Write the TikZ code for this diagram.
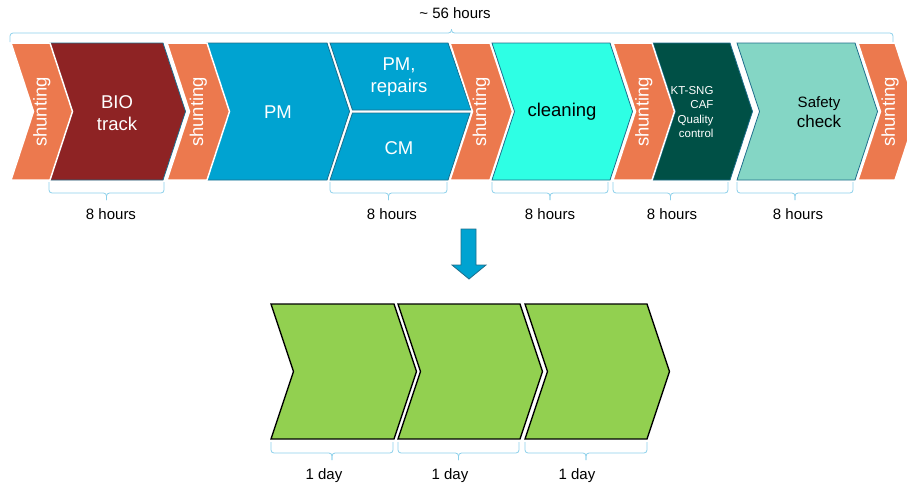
\documentclass[tikz,border=0pt]{standalone}
\usepackage{fontspec}
\setmainfont{Liberation Sans}
\usepackage{tikz}
\usepackage{xcolor}
\definecolor{shuntorange}{RGB}{236,121,78}
\definecolor{biored}{RGB}{142,35,36}
\definecolor{pmblue}{RGB}{0,163,209}
\definecolor{cleancyan}{RGB}{46,255,228}
\definecolor{ktgreen}{RGB}{0,80,70}
\definecolor{safetygreen}{RGB}{132,214,197}
\definecolor{daygreen}{RGB}{146,208,80}
\definecolor{edgeblue}{RGB}{30,110,140}
\definecolor{bracketblue}{RGB}{140,208,234}
\newcommand{\chevron}[5][]{\path[#1] (#2,#4) -- (#3,#4) -- (#3+22.5,{(#4+#5)/2}) -- (#3,#5) -- (#2,#5) -- (#2+22.5,{(#4+#5)/2}) -- cycle;}
\newcommand{\lowbrace}[3]{%
\draw[bracket] (#1,#3) |- ({(#1+#2)/2},#3+11) -- ++(0,7);
\draw[bracket] (#2,#3) |- ({(#1+#2)/2},#3+11) -- ++(0,7);}
\newcommand{\highbrace}[3]{%
\draw[bracket] (#1,#3) |- ({(#1+#2)/2},#3-9) -- ++(0,-4);
\draw[bracket] (#2,#3) |- ({(#1+#2)/2},#3-9) -- ++(0,-4);}
\newcommand{\bigtxt}{\fontsize{18.5}{22}\selectfont}
\newcommand{\smalltxt}{\fontsize{15}{18}\selectfont}

\begin{document}
\begin{tikzpicture}[x=1pt,y=-1pt,
  stage/.style={draw=edgeblue,line width=0.8pt},
  shunt/.style={fill=shuntorange,draw=white,line width=1.5pt},
  day/.style={fill=daygreen,draw=black,line width=1.3pt,line join=miter},
  bracket/.style={draw=bracketblue,line width=0.8pt,rounded corners=3pt},
  lbl/.style={font=\smalltxt,anchor=base},
  intxt/.style={font=\bigtxt,text=white,align=center}]
\useasboundingbox (0,0) rectangle (907,488);
\clip (0,0) rectangle (907,488);
\chevron[stage,fill=biored]{50}{163}{43}{180}
\chevron[stage,fill=pmblue]{207}{327}{43}{180}
\path[stage,fill=pmblue] (330,43) -- (448,43) -- (471,110) -- (352.5,110) -- cycle;
\path[stage,fill=pmblue] (352.5,113) -- (470,113) -- (448,180) -- (330,180) -- cycle;
\chevron[stage,fill=cleancyan]{492}{610}{43}{180}
\chevron[stage,fill=ktgreen]{653}{730}{43}{180}
\chevron[stage,fill=safetygreen]{737}{855}{43}{180}
\foreach \l/\r/\t [count=\n] in {11/50/41.75,167/207/198.25,450/490/481.25,613/652/643.75,858/895/890}{
  \chevron[shunt]{\l}{\r}{43}{180}
  \node[font=\bigtxt,text=white,rotate=90] (shunt\n) at (\t,112) {shunting};
}
\node[intxt] (bio) at (117,113) {BIO\\track};
\node[intxt] (pm) at (278,112) {PM};
\node[intxt] (repairs) at (399,77) {PM,\\repairs};
\node[intxt] (cm) at (399,148) {CM};
\node[font=\bigtxt] (cleaning) at (562,112) {cleaning};
\node[font=\fontsize{11.5}{14.3}\selectfont,text=white,align=right,anchor=east] (ktsng) at (717,112) {KT-SNG\\CAF\\Quality\\control};
\node[align=center] (safety) at (819,112) {{\fontsize{15}{18}\selectfont Safety}\\[3pt]{\fontsize{17}{20}\selectfont check}};
\highbrace{10}{893}{42}
\node[lbl] (total) at (455,18) {\textasciitilde\ 56 hours};
\lowbrace{49}{164}{182}
\lowbrace{330}{447}{182}
\lowbrace{492}{608}{182}
\lowbrace{613}{728}{182}
\lowbrace{737}{853}{182}
\node[lbl] (h1) at (111,219) {8 hours};
\node[lbl] (h2) at (392,219) {8 hours};
\node[lbl] (h3) at (550,219) {8 hours};
\node[lbl] (h4) at (672,219) {8 hours};
\node[lbl] (h5) at (798,219) {8 hours};
\path[fill=pmblue,draw=edgeblue,line width=0.8pt] (461,229) -- (476,229) -- (476,265) -- (486,265) -- (469,279) -- (452,265) -- (461,265) -- cycle;
\chevron[day]{271}{394}{304}{439}
\chevron[day]{398}{520}{304}{439}
\chevron[day]{525}{647}{304}{439}
\lowbrace{271}{393}{442}
\lowbrace{398}{519}{442}
\lowbrace{525}{647}{442}
\node[lbl] (d1) at (324,479) {1 day};
\node[lbl] (d2) at (450,479) {1 day};
\node[lbl] (d3) at (577,479) {1 day};
\end{tikzpicture}
\end{document}
